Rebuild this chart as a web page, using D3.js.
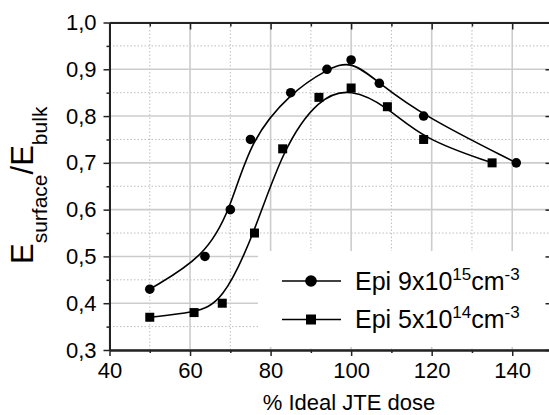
<!DOCTYPE html>
<html>
<head>
<meta charset="utf-8">
<script src="https://cdn.jsdelivr.net/npm/d3@7"></script>
<style>
  body { margin: 0; background: #fff; }
  text { font-family: Arial, "Liberation Sans", sans-serif; fill: #000; }
</style>
</head>
<body>
<div id="chart"></div>
<script>
// Epi 9x10^15 cm^-3 (circles)
var dose1 = [50, 63.7, 70, 75, 85, 94, 100, 107, 118, 141];
var ratio1 = [0.43, 0.50, 0.60, 0.75, 0.85, 0.90, 0.92, 0.87, 0.80, 0.70];
// Epi 5x10^14 cm^-3 (squares)
var dose2 = [50, 61, 68, 76, 83, 92, 100, 109, 118, 135];
var ratio2 = [0.37, 0.38, 0.40, 0.55, 0.73, 0.84, 0.86, 0.82, 0.75, 0.70];

var xTicks = [40, 60, 80, 100, 120, 140];
var xMinor = [50, 70, 90, 110, 130, 150];
var yTicks = [0.3, 0.4, 0.5, 0.6, 0.7, 0.8, 0.9, 1.0];
var yMinor = [0.35, 0.45, 0.55, 0.65, 0.75, 0.85, 0.95];

var width = 549,
    height = 415,
    margin = {left: 109.5, right: -3.5, top: 22.5, bottom: 65};

var svg = d3.select("#chart").append("svg")
    .attr("width", width)
    .attr("height", height);

var x = d3.scaleLinear().domain([40, 150]).range([margin.left, width - margin.right]),
    y = d3.scaleLinear().domain([0.3, 1.0]).range([height - margin.bottom, margin.top]);

var x0 = x.range()[0], x1 = x.range()[1], y0 = y.range()[0], y1 = y.range()[1];

// grid
var grid = svg.append("g");
grid.selectAll(".gxm").data(xMinor).enter().append("line")
    .attr("x1", d => x(d)).attr("x2", d => x(d)).attr("y1", y0).attr("y2", y1)
    .attr("stroke", "#bdbdbd").attr("stroke-width", 1).attr("stroke-dasharray", "1.5,2");
grid.selectAll(".gym").data(yMinor).enter().append("line")
    .attr("x1", x0).attr("x2", x1).attr("y1", d => y(d)).attr("y2", d => y(d))
    .attr("stroke", "#bdbdbd").attr("stroke-width", 1).attr("stroke-dasharray", "1.5,2");
grid.selectAll(".gx").data(xTicks).enter().append("line")
    .attr("x1", d => x(d)).attr("x2", d => x(d)).attr("y1", y0).attr("y2", y1)
    .attr("stroke", "#cccccc").attr("stroke-width", 1.6);
grid.selectAll(".gy").data(yTicks).enter().append("line")
    .attr("x1", x0).attr("x2", x1).attr("y1", d => y(d)).attr("y2", d => y(d))
    .attr("stroke", "#cccccc").attr("stroke-width", 1.6);

// legend background hides the grid
svg.append("rect")
    .attr("x", 258).attr("y", 251).attr("width", 300).attr("height", 96)
    .attr("fill", "#fff");

// axes
var fmt = d => d.toFixed(1).replace(".", ",");

var xAxis = svg.append("g").attr("transform", "translate(0," + y0 + ")")
    .call(d3.axisBottom(x).tickValues(xTicks).tickSize(6).tickSizeOuter(0).tickPadding(6).tickFormat(d3.format("d")));
var xAxisMinor = svg.append("g").attr("transform", "translate(0," + y0 + ")")
    .call(d3.axisBottom(x).tickValues(xMinor).tickSize(3).tickSizeOuter(0).tickFormat(""));
var xTop = svg.append("g").attr("transform", "translate(0," + y1 + ")")
    .call(d3.axisTop(x).tickValues(xTicks).tickSize(-7).tickSizeOuter(0).tickFormat(""));
var xTopMinor = svg.append("g").attr("transform", "translate(0," + y1 + ")")
    .call(d3.axisTop(x).tickValues(xMinor).tickSize(-4).tickSizeOuter(0).tickFormat(""));

var yAxis = svg.append("g").attr("transform", "translate(" + x0 + ",0)")
    .call(d3.axisLeft(y).tickValues(yTicks).tickSize(6).tickSizeOuter(0).tickPadding(7).tickFormat(fmt));
var yAxisMinor = svg.append("g").attr("transform", "translate(" + x0 + ",0)")
    .call(d3.axisLeft(y).tickValues(yMinor).tickSize(3).tickSizeOuter(0).tickFormat(""));
var yRight = svg.append("g").attr("transform", "translate(" + x1 + ",0)")
    .call(d3.axisRight(y).tickValues(yTicks).tickSize(-7).tickSizeOuter(0).tickFormat(""));

svg.selectAll(".domain").attr("stroke", "#222").attr("stroke-width", 2);
svg.selectAll(".tick line").attr("stroke", "#222").attr("stroke-width", 1.5);
svg.selectAll(".tick text").style("font-size", "22px").attr("fill", "#000");

// axis titles
svg.append("text")
    .attr("x", 349).attr("y", 410)
    .attr("text-anchor", "middle")
    .style("font-size", "22px")
    .text("% Ideal JTE dose");

var ylab = svg.append("text")
    .attr("transform", "translate(33,264) rotate(-90)")
    .style("font-size", "31px");
ylab.append("tspan").text("E");
ylab.append("tspan").attr("dy", 14).style("font-size", "21px").text("surface");
ylab.append("tspan").attr("dy", -14).text("/E");
ylab.append("tspan").attr("dy", 14).style("font-size", "21px").text("bulk");

// curves
var line = d3.line().x(d => x(d[0])).y(d => y(d[1])).curve(d3.curveBasis);
var pts1 = dose1.map((d, i) => [d, ratio1[i]]),
    pts2 = dose2.map((d, i) => [d, ratio2[i]]);

svg.append("path").datum(pts1).attr("d", line)
    .attr("fill", "none").attr("stroke", "#000").attr("stroke-width", 1.6);
svg.append("path").datum(pts2).attr("d", line)
    .attr("fill", "none").attr("stroke", "#000").attr("stroke-width", 1.6);

svg.selectAll(".c1").data(pts1).enter().append("circle")
    .attr("cx", d => x(d[0])).attr("cy", d => y(d[1])).attr("r", 4.8).attr("fill", "#000");
svg.selectAll(".s2").data(pts2).enter().append("rect")
    .attr("x", d => x(d[0]) - 4.5).attr("y", d => y(d[1]) - 4.5)
    .attr("width", 9).attr("height", 9).attr("fill", "#000");

// legend
var legend = [
  {sym: "circle", base: "Epi 9x10", exp: "15"},
  {sym: "square", base: "Epi 5x10", exp: "14"}
];
var lg = svg.selectAll(".leg").data(legend).enter().append("g")
    .attr("transform", (d, i) => "translate(0," + (281 + i * 38.5) + ")");
lg.append("line").attr("x1", 282).attr("x2", 341).attr("y1", 0).attr("y2", 0)
    .attr("stroke", "#000").attr("stroke-width", 1.6);
lg.filter(d => d.sym == "circle").append("circle")
    .attr("cx", 311).attr("cy", 0).attr("r", 5.8).attr("fill", "#000");
lg.filter(d => d.sym == "square").append("rect")
    .attr("x", 306).attr("y", -5).attr("width", 10).attr("height", 10).attr("fill", "#000");
var lt = lg.append("text").attr("x", 355).attr("y", 8.5).style("font-size", "25px");
lt.append("tspan").text(d => d.base);
lt.append("tspan").attr("dy", -10).style("font-size", "17px").text(d => d.exp);
lt.append("tspan").attr("dy", 10).text("cm");
lt.append("tspan").attr("dy", -10).style("font-size", "17px").text("-3");
</script>
</body>
</html>
